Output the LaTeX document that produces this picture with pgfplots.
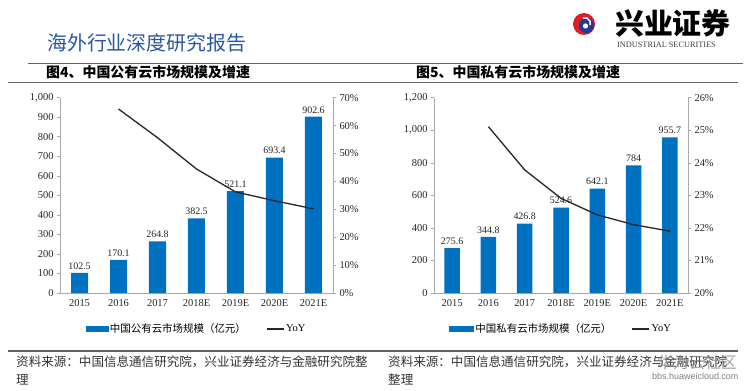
\documentclass[border=0pt]{standalone}
\usepackage{fontspec}
\setmainfont{Liberation Serif}
\setsansfont{Liberation Sans}
\newfontfamily\cjk{Noto Sans CJK SC}
\usepackage{pgfplots}
\pgfplotsset{compat=1.18}
\definecolor{barblue}{RGB}{0,112,192}
\definecolor{hdrblue}{RGB}{40,88,160}
\definecolor{axisgray}{RGB}{170,170,170}
\definecolor{rulegray}{RGB}{100,100,100}
\definecolor{logored}{RGB}{220,30,40}
\definecolor{logoblue}{RGB}{30,60,150}
\definecolor{linecol}{RGB}{38,38,38}
\pgfplotsset{
  /pgf/number format/assume math mode=true,
  commonax/.style={
    scale only axis, anchor=south west,
    xmin=-0.5, xmax=6.5,
    axis line style={draw=axisgray, line width=0.8bp},
    tick align=outside, major tick length=3bp,
    y tick style={draw=axisgray, line width=0.6bp},
    x tick style={draw=none},
    tick label style={font=\fontsize{10.5}{11}\selectfont, color=black!85},
  },
  barax/.style={
    commonax,
    axis y line*=left, axis x line*=bottom,
    xtick={0,...,6},
    xticklabels={2015,2016,2017,2018E,2019E,2020E,2021E},
    ybar, 
    nodes near coords,
    every node near coord/.append style={font=\fontsize{10}{10}\selectfont, color=black!85},
    /pgf/number format/.cd, fixed, precision=1, 1000 sep={,},
  },
  lineax/.style={
    commonax,
    axis y line*=right, axis x line=none,
    yticklabel={\pgfmathprintnumber{\tick}\%},
    legend style={draw=none, fill=none, legend columns=2,
      font=\fontsize{10.5}{11}\selectfont,
      /tikz/every even column/.append style={column sep=18bp}},
  },
}
\begin{document}
\begin{tikzpicture}[x=1bp,y=1bp]
\useasboundingbox (0,0) rectangle (750,390);
\fill[white] (0,0) rectangle (750,390);

% header
\node[anchor=west, inner sep=0, text=hdrblue] at (47,347) {\cjk\fontsize{20}{20}\selectfont 海外行业深度研究报告};
% logo
\fill[logored] (584,366) circle (11);
\fill[logoblue] (586.5,364.5) circle (7.6);
\draw[white, line width=1.4bp] (583,372) arc (110:-20:5.5);
\fill[white] (585.5,364) circle (2.6);
\node[anchor=west, inner sep=0] at (615,367) {\cjk\bfseries\fontsize{29}{29}\selectfont 兴业证券};
\node[anchor=west, inner sep=0, text=black!75] at (617,345) {\fontsize{8.3}{9}\selectfont INDUSTRIAL SECURITIES};

% rules
\draw[rulegray, line width=0.8bp] (28,327) -- (743,327);
\draw[rulegray, line width=1.5bp] (8,307.5) -- (738,307.5);
\draw[rulegray, line width=1.5bp] (8,39) -- (738,39);

% panel titles
\node[anchor=west, inner sep=0] at (46,317.5) {\cjk\bfseries\fontsize{14}{14}\selectfont 图4、中国公有云市场规模及增速};
\node[anchor=west, inner sep=0] at (416,317.5) {\cjk\bfseries\fontsize{14}{14}\selectfont 图5、中国私有云市场规模及增速};

% sources
\node[anchor=west, inner sep=0, text=black!80] at (16,28) {\cjk\fontsize{12.6}{13}\selectfont 资料来源：中国信息通信研究院，兴业证券经济与金融研究院整};
\node[anchor=west, inner sep=0, text=black!80] at (16,10) {\cjk\fontsize{12.6}{13}\selectfont 理};
\node[anchor=west, inner sep=0, text=black!80] at (388,28) {\cjk\fontsize{12.6}{13}\selectfont 资料来源：中国信息通信研究院，兴业证券经济与金融研究院};
\node[anchor=west, inner sep=0, text=black!80] at (388,10) {\cjk\fontsize{12.6}{13}\selectfont 整理};
% watermark
\node[anchor=west, inner sep=0, text=black!45, opacity=0.8] at (657,28) {\cjk\fontsize{16}{16}\selectfont 华为云社区};
\node[anchor=west, inner sep=0, text=black!50] at (652,14) {\sffamily\fontsize{9}{9}\selectfont bbs.huaweicloud.com};

% ---- left chart ----
\begin{axis}[barax, at={(60bp,97bp)}, width=273bp, height=195.3bp,
  ymin=0, ymax=1000, ytick={0,100,...,1000}, bar width=17bp]
\addplot[fill=barblue, draw=none] coordinates {(0,102.5) (1,170.1) (2,264.8) (3,382.5) (4,521.1) (5,693.4) (6,902.6)};
\end{axis}
\begin{axis}[lineax, at={(60bp,97bp)}, width=273bp, height=195.3bp,
  ymin=0, ymax=70, ytick={0,10,...,70},
  legend style={at={(0.5,-0.184)}, anchor=center}]
\addlegendimage{legend image code/.code={\fill[barblue] (0bp,-2.3bp) rectangle (22bp,2.3bp);}}
\addlegendentry{\cjk 中国公有云市场规模（亿元）}
\addplot[linecol, line width=1.3bp, mark=none] coordinates {(1,65.95) (2,55.67) (3,44.45) (4,36.24) (5,33.06) (6,30.17)};
\addlegendentry{YoY}
\end{axis}

% ---- right chart ----
\begin{axis}[barax, at={(434bp,97bp)}, width=254bp, height=195.3bp,
  ymin=0, ymax=1200, ytick={0,200,...,1200}, bar width=15.5bp]
\addplot[fill=barblue, draw=none] coordinates {(0,275.6) (1,344.8) (2,426.8) (3,524.6) (4,642.1) (5,784) (6,955.7)};
\end{axis}
\begin{axis}[lineax, at={(434bp,97bp)}, width=254bp, height=195.3bp,
  ymin=20, ymax=26, ytick={20,21,...,26},
  legend style={at={(0.5,-0.184)}, anchor=center}]
\addlegendimage{legend image code/.code={\fill[barblue] (0bp,-2.3bp) rectangle (24bp,2.3bp);}}
\addlegendentry{\cjk 中国私有云市场规模（亿元）}
\addplot[linecol, line width=1.3bp, mark=none] coordinates {(1,25.11) (2,23.78) (3,22.91) (4,22.40) (5,22.10) (6,21.90)};
\addlegendentry{YoY}
\end{axis}
\end{tikzpicture}
\end{document}
